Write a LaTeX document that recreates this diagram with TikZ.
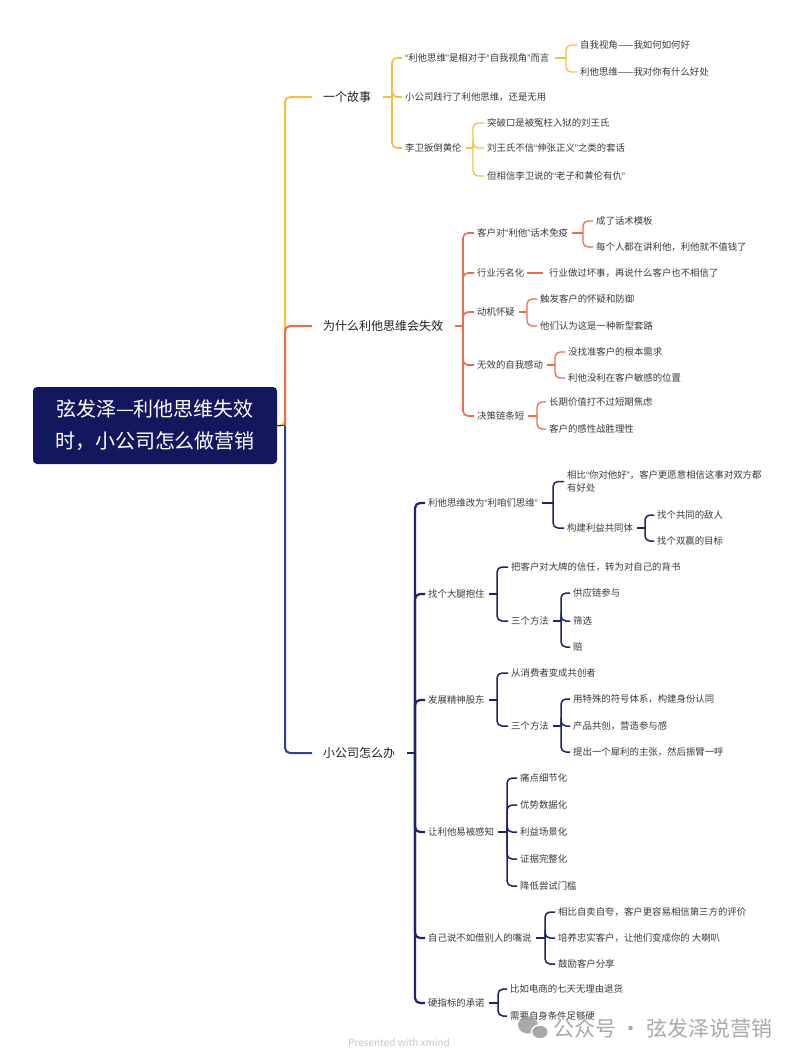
\documentclass[tikz,border=0pt]{standalone}
\usepackage{fontspec}
\setmainfont{Noto Sans CJK SC}
\newfontfamily\qfont{Liberation Sans}
\newcommand{\myoq}{{\qfont “}}
\newcommand{\mycq}{{\qfont ”}}
\definecolor{cY}{HTML}{F6C043}
\definecolor{cR}{HTML}{EE6B4D}
\definecolor{cB}{HTML}{2E4199}
\definecolor{cN}{HTML}{1E2466}
\definecolor{rootfill}{HTML}{13185E}
\definecolor{txt}{HTML}{3A3A3A}
\definecolor{wm}{HTML}{9A9A9A}
\tikzset{
  leaf/.style={anchor=west, inner sep=0pt, text=txt, font=\fontsize{9.4}{13}\selectfont},
  mainT/.style={anchor=west, inner sep=0pt, text=black!88, font=\fontsize{12}{14}\selectfont},
  rootbox/.style={fill=rootfill, rounded corners=4pt, text=white, align=center,
    minimum width=244pt, minimum height=77pt, inner sep=0pt,
    font=\fontsize{20}{32}\selectfont},
  trY/.style={draw=cY, line width=2pt, rounded corners=5pt},
  trR/.style={draw=cR, line width=2pt, rounded corners=5pt},
  trB/.style={draw=cB, line width=2pt, rounded corners=5pt},
  subY/.style={draw=cY, line width=1.7pt, rounded corners=5pt},
  lfY/.style={draw=cY, line width=1.3pt, rounded corners=5pt},
  subR/.style={draw=cR, line width=1.6pt, rounded corners=5pt},
  lfR/.style={draw=cR, line width=1.3pt, rounded corners=5pt},
  subN/.style={draw=cN, line width=2.2pt, rounded corners=5pt},
  lfN/.style={draw=cN, line width=1.5pt, rounded corners=5pt},
}
% #1 style, #2 parent, #3 bracket x, #4 stub gap, #5 children
\newcommand{\kids}[5]{%
  \coordinate (bk) at (#3,0);
  \draw[#1] ([xshift=#4]#2.east) -- (bk |- #2.east);
  \foreach \kid in {#5}{\draw[#1] (bk |- #2.east) |- ([xshift=-3pt]\kid.west);}
}
\begin{document}
\begin{tikzpicture}[x=1pt,y=-1pt]
\useasboundingbox[fill=white] (0,0) rectangle (800,1061);

% root
\node[rootbox] (r) at (155,425.5) {弦发泽—利他思维失效\\时，小公司怎么做营销};

% main topics
\node[mainT] (m1) at (323,97) {一个故事};
\node[mainT] (m2) at (323,326) {为什么利他思维会失效};
\node[mainT] (m3) at (323,753) {小公司怎么办};

% branch 1
\node[leaf] (a1) at (405,58) {\myoq 利他思维\mycq 是相对于\myoq 自我视角\mycq 而言};
\node[leaf] (a2) at (405,97) {小公司践行了利他思维，还是无用};
\node[leaf] (a3) at (405,148) {李卫扳倒黄伦};
\node[leaf] (a11) at (580,45) {自我视角——我如何如何好};
\node[leaf] (a12) at (580,72) {利他思维——我对你有什么好处};
\node[leaf] (a31) at (487,123) {突破口是被冤枉入狱的刘王氏};
\node[leaf] (a32) at (487,148) {刘王氏不信\myoq 伸张正义\mycq 之类的套话};
\node[leaf] (a33) at (487,176) {但相信李卫说的\myoq 老子和黄伦有仇\mycq};

% branch 2
\node[leaf] (b1) at (477,233) {客户对\myoq 利他\mycq 话术免疫};
\node[leaf] (b11) at (596,221) {成了话术模板};
\node[leaf] (b12) at (596,247) {每个人都在讲利他，利他就不值钱了};
\node[leaf] (b2) at (477,273) {行业污名化};
\node[leaf] (b21) at (549,273) {行业做过坏事，再说什么客户也不相信了};
\node[leaf] (b3) at (477,312) {动机怀疑};
\node[leaf] (b31) at (540,299) {触发客户的怀疑和防御};
\node[leaf] (b32) at (540,326) {他们认为这是一种新型套路};
\node[leaf] (b4) at (477,365) {无效的自我感动};
\node[leaf] (b41) at (568,352) {没找准客户的根本需求};
\node[leaf] (b42) at (568,378) {利他没利在客户敏感的位置};
\node[leaf] (b5) at (477,416) {决策链条短};
\node[leaf] (b51) at (549,402) {长期价值打不过短期焦虑};
\node[leaf] (b52) at (549,429) {客户的感性战胜理性};

% branch 3
\node[leaf] (c1) at (428,503) {利他思维改为\myoq 利咱们思维\mycq};
\node[leaf, align=left] (c11) at (567,481.5) {相比\myoq 你对他好\mycq，客户更愿意相信这事对双方都\\有好处};
\node[leaf] (c12) at (567,528) {构建利益共同体};
\node[leaf] (c121) at (657,515) {找个共同的敌人};
\node[leaf] (c122) at (657,541) {找个双赢的目标};
\node[leaf] (c2) at (428,594) {找个大腿抱住};
\node[leaf] (c21) at (511,567) {把客户对大牌的信任，转为对自己的背书};
\node[leaf] (c22) at (511,621) {三个方法};
\node[leaf] (c221) at (573,593) {供应链参与};
\node[leaf] (c222) at (573,621) {筛选};
\node[leaf] (c223) at (573,647) {赔};
\node[leaf] (c3) at (428,700) {发展精神股东};
\node[leaf] (c31) at (511,673) {从消费者变成共创者};
\node[leaf] (c32) at (511,726) {三个方法};
\node[leaf] (c321) at (573,699) {用特殊的符号体系，构建身份认同};
\node[leaf] (c322) at (573,726) {产品共创，营造参与感};
\node[leaf] (c323) at (573,752) {提出一个犀利的主张，然后振臂一呼};
\node[leaf] (c4) at (428,832) {让利他易被感知};
\node[leaf] (c41) at (520,778) {痛点细节化};
\node[leaf] (c42) at (520,805) {优势数据化};
\node[leaf] (c43) at (520,832) {利益场景化};
\node[leaf] (c44) at (520,859) {证据完整化};
\node[leaf] (c45) at (520,886) {降低尝试门槛};
\node[leaf] (c5) at (428,938) {自己说不如借别人的嘴说};
\node[leaf] (c51) at (558,912) {相比自卖自夸，客户更容易相信第三方的评价};
\node[leaf] (c52) at (558,938) {培养忠实客户，让他们变成你的 大喇叭};
\node[leaf] (c53) at (558,964) {鼓励客户分享};
\node[leaf] (c6) at (428,1003) {硬指标的承诺};
\node[leaf] (c61) at (510,989) {比如电商的七天无理由退货};
\node[leaf] (c62) at (510,1016) {需要自身条件足够硬};

% root trunk
\coordinate (tr) at (285,0);
\draw[trY] (r.east) -- (tr |- r.east) |- ([xshift=-11pt]m1.west);
\draw[trR] (tr |- r.east) |- ([xshift=-11pt]m2.west);
\draw[cN, line width=1pt] (r.east) -- (tr |- r.east);
\draw[trB] (tr |- r.east) |- ([xshift=-11pt]m3.west);

% branch 1 connectors
\kids{subY}{m1}{392}{12pt}{a1,a2,a3}
\kids{lfY}{a1}{566}{5pt}{a11,a12}
\kids{lfY}{a3}{473}{4pt}{a31,a32,a33}

% branch 2 connectors
\kids{subR}{m2}{463}{12pt}{b1,b2,b3,b4,b5}
\kids{lfR}{b1}{583}{4pt}{b11,b12}
\draw[lfR] ([xshift=3pt]b2.east) -- ([xshift=-6pt]b21.west);
\kids{lfR}{b3}{527}{4pt}{b31,b32}
\kids{lfR}{b4}{555}{4pt}{b41,b42}
\kids{lfR}{b5}{537}{4pt}{b51,b52}

% branch 3 connectors
\kids{subN}{m3}{415}{12pt}{c1,c2,c3,c4,c5,c6}
\kids{lfN}{c1}{553}{4pt}{c11,c12}
\kids{lfN}{c12}{645}{4pt}{c121,c122}
\kids{lfN}{c2}{497}{4pt}{c21,c22}
\kids{lfN}{c22}{561}{4pt}{c221,c222,c223}
\kids{lfN}{c3}{497}{4pt}{c31,c32}
\kids{lfN}{c32}{561}{4pt}{c321,c322,c323}
\kids{lfN}{c4}{507}{4pt}{c41,c42,c43,c44,c45}
\kids{lfN}{c5}{545}{4pt}{c51,c52,c53}
\kids{lfN}{c6}{498}{4pt}{c61,c62}

% watermark
\fill[wm, opacity=0.85] (528,1025) ellipse [x radius=10, y radius=8.5];
\draw[white, line width=1.5pt, fill=wm, fill opacity=0.85] (540,1032) ellipse [x radius=8.5, y radius=7];
\node[anchor=west, inner sep=0pt, text=wm, opacity=0.85, font=\fontsize{21}{24}\selectfont] (wmt) at (553,1028) {公众号 · 弦发泽说营销};
\node[anchor=west, inner sep=0pt, text=black!22, font=\fontsize{10}{12}\selectfont] (xm) at (348,1043) {Presented with xmind};
\end{tikzpicture}
\end{document}
